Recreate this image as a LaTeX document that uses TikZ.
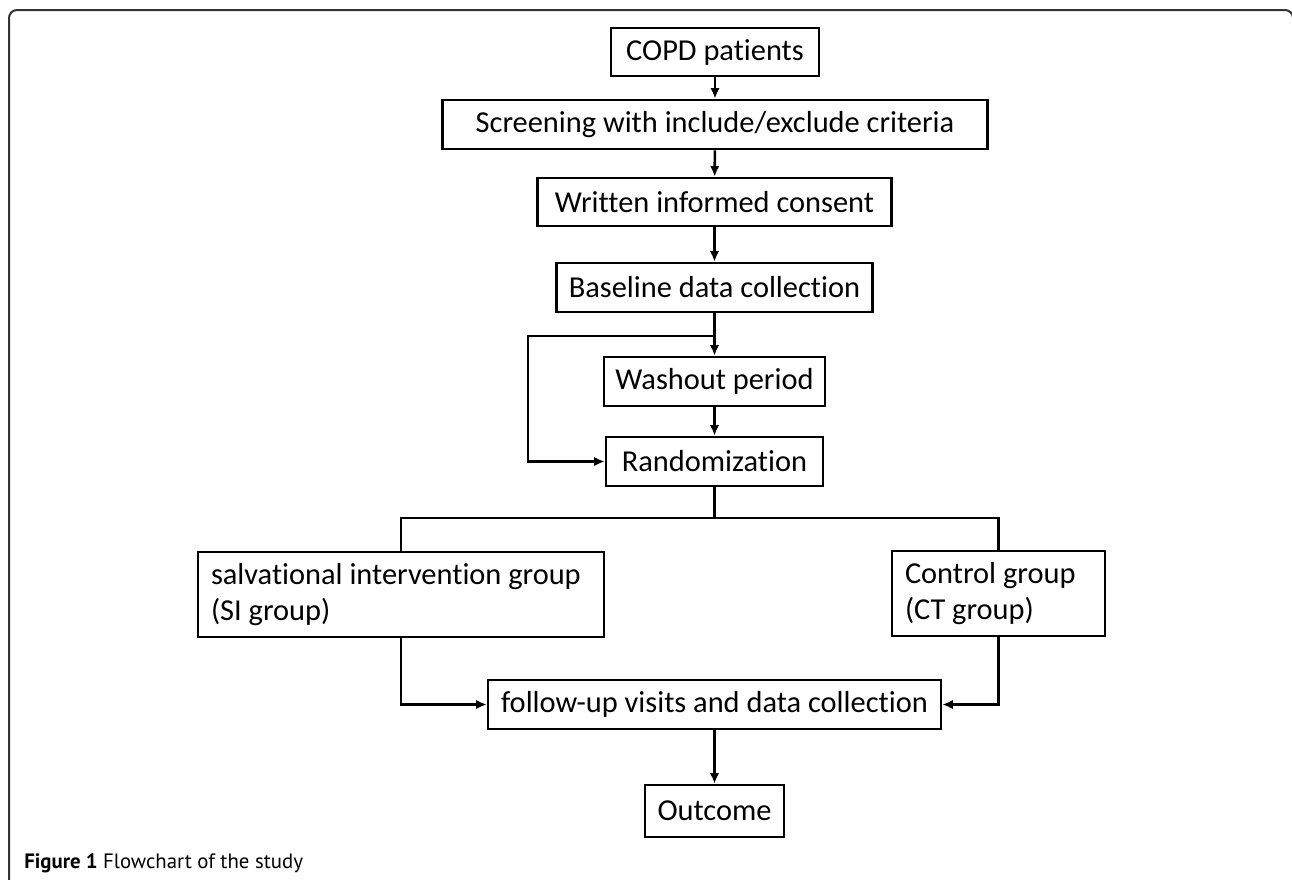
\documentclass[tikz,border=0pt]{standalone}
\usepackage{fontspec}
\setmainfont{Carlito}[Ligatures=NoCommon]
\newfontfamily\capfont{PT Sans}
\usetikzlibrary{arrows.meta}
\tikzset{
  bx/.style 2 args={draw=black, line width=1.9pt, rectangle, inner sep=0pt,
    minimum width=#1*0.75pt, minimum height=#2*0.75pt,
    font=\fontsize{22.8pt}{27pt}\selectfont},
  twoline/.style={align=flush left, inner xsep=13*0.75pt, text width=#1*0.75pt},
  conn/.style={line width=1.9pt, draw=black},
  arr/.style={conn, -{Latex[length=8pt,width=7pt]}},
}
\begin{document}
\begin{tikzpicture}[x=0.75pt,y=-0.75pt]
\useasboundingbox (0,0) rectangle (1292,879);
\draw[line width=1.5pt, draw=black!80, rounded corners=6pt] (9,885) -- (9,10) -- (1293,10) -- (1293,885);

\node[bx={208}{48}] (copd) at (715,52) {COPD patients};
\node[bx={545}{49}] (screen) at (715,124.5) {Screening with include/exclude criteria};
\node[bx={354}{48}] (consent) at (714.5,202) {Written informed consent};
\node[bx={316}{49}] (base) at (714.5,287.5) {Baseline data collection};
\node[bx={221}{49}] (wash) at (714.5,381.5) {Washout period};
\node[bx={217}{49}] (rand) at (714.5,461.5) {Randomization};
\node[bx={406}{85}, twoline=380] (si) at (401,594.5) {salvational intervention group\\(SI group)};
\node[bx={213}{85}, twoline=187] (ctrl) at (998.5,593.5) {Control group\\(CT group)};
\node[bx={453}{49}] (follow) at (714.5,704.5) {follow-up visits and data collection};
\node[bx={139}{52}] (out) at (714.5,811) {Outcome};

\coordinate (jn) at (714.5,336);
\coordinate (lp) at (528,336);
\coordinate (br) at (714.5,518);

\draw[arr] (copd) -- (screen);
\draw[arr] (screen) -- (consent);
\draw[arr] (consent) -- (base);
\draw[arr] (base) -- (wash);
\draw[arr] (jn) -- (lp) |- (rand.west);
\draw[arr] (wash) -- (rand);
\draw[conn] (rand.south) -- (br);
\draw[conn] (si.north) -- (si.north |- br) -- (ctrl.north |- br) -- (ctrl.north);
\draw[arr] (si.south) |- (follow.west);
\draw[arr] (ctrl.south) |- (follow.east);
\draw[arr] (follow) -- (out);

\node[anchor=base west, inner sep=0pt, font=\capfont\fontsize{15.6pt}{18pt}\selectfont] (cap) at (24,868) {\textbf{Figure 1} Flowchart of the study};
\end{tikzpicture}
\end{document}
